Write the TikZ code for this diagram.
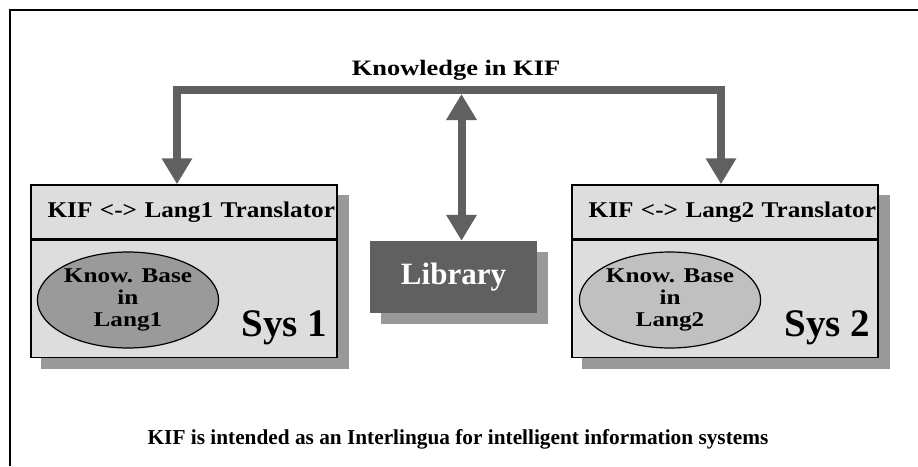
\documentclass[tikz,border=0pt]{standalone}
\usepackage{fontspec}
\setmainfont{Liberation Serif}
\newfontfamily\hdrfont[FakeStretch=1.12]{Liberation Serif}
\newfontfamily\widefont[FakeStretch=1.2]{Liberation Serif}
\usetikzlibrary{arrows.meta,positioning,shapes.geometric,backgrounds}
\definecolor{arrowgray}{HTML}{606060}
\definecolor{shadowgray}{HTML}{999999}
\definecolor{boxgray}{HTML}{DDDDDD}
\definecolor{kbdark}{HTML}{9A9A9A}
\definecolor{kblight}{HTML}{C0C0C0}
\newcommand{\kiffont}[2]{\fontsize{#1}{#2}\selectfont\bfseries}

\begin{document}
\begin{tikzpicture}[x=1pt, y=-1pt,
  kiftip/.tip={Triangle[width=29pt,length=26pt]},
  kifline/.style={draw=arrowgray, line width=8pt},
  sysbox/.style={draw, line width=1.5pt, fill=boxgray, minimum width=306pt, inner sep=0pt},
  hdrbox/.style={sysbox, minimum height=54pt, text width=302pt, align=right, font=\hdrfont\kiffont{22.5}{22.5}},
  kbnode/.style={ellipse, draw, line width=1.2pt, minimum width=178pt, minimum height=96pt,
                 inner sep=0pt, align=center, font=\widefont\kiffont{21}{22}},
  shadowfill/.style={fill=shadowgray},
]
  \useasboundingbox (0,0) rectangle (918,466);
  % frame
  \draw[line width=2pt] (10,466) -- (10,10) -- (918,10);

  %% system 1
  \node[hdrbox] (hdrA) at (184,212) {KIF <-> Lang1 Translator};
  \node[sysbox, minimum height=117pt, below=0pt of hdrA] (bodyA) {};
  \node[kbnode, fill=kbdark] (kbA) at (128,300) {Know. Base\\in\\Lang1};
  \node[anchor=base west, font=\kiffont{39}{39}] (sysA) at (238,336) {Sys 1};

  %% system 2
  \node[hdrbox] (hdrB) at (725,212) {KIF <-> Lang2 Translator};
  \node[sysbox, minimum height=117pt, below=0pt of hdrB] (bodyB) {};
  \node[kbnode, fill=kblight] (kbB) at (670,300) {Know. Base\\in\\Lang2};
  \node[anchor=base west, font=\kiffont{39}{39}] (sysB) at (781,336) {Sys 2};

  %% library
  \node[fill=arrowgray, text=white, minimum width=167pt, minimum height=72pt,
        font=\kiffont{31}{31}] (lib) at (453.5,277) {Library};

  % shadows
  \begin{scope}[on background layer]
    \fill[shadowfill] ([xshift=11pt,yshift=-11pt]hdrA.north west) rectangle ([xshift=11pt,yshift=-11pt]bodyA.south east);
    \fill[shadowfill] ([xshift=11pt,yshift=-11pt]hdrB.north west) rectangle ([xshift=11pt,yshift=-11pt]bodyB.south east);
    \fill[shadowfill] ([xshift=11pt,yshift=-11pt]lib.north west) rectangle ([xshift=11pt,yshift=-11pt]lib.south east);
  \end{scope}

  %% knowledge in KIF
  \node[anchor=base, font=\widefont\kiffont{22}{22}] (title) at (456,75) {Knowledge in KIF};
  \coordinate (kifbar) at (456,90);
  \draw[kifline, kiftip-kiftip] ([xshift=-7pt]hdrA.north) |- (kifbar) -| ([xshift=-4pt]hdrB.north);
  \draw[kifline, kiftip-kiftip] ([xshift=8pt]lib.north) -- ([xshift=8pt,yshift=-4pt]lib.north |- kifbar);

  \node[anchor=base, font=\kiffont{21.3}{21.3}] (note) at (458,444)
    {KIF is intended as an Interlingua for intelligent information systems};
\end{tikzpicture}
\end{document}
